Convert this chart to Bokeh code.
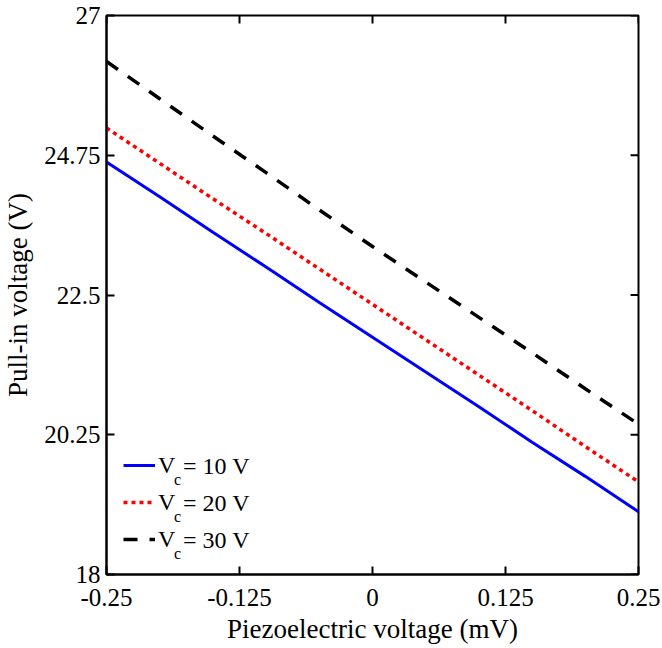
from bokeh.plotting import figure
from bokeh.models import (Range1d, FixedTicker, Legend, LegendItem, Label)
from bokeh.embed import file_html
from bokeh.resources import INLINE

# ---- data ----
piezo_mV = [-0.25, -0.20, -0.15, -0.10, -0.05, 0.0, 0.05, 0.10, 0.15, 0.20, 0.25]
pullin_vc10 = [24.64, 24.08, 23.51, 22.95, 22.38, 21.82, 21.26, 20.70, 20.13, 19.58, 19.01]
pullin_vc20 = [25.19, 24.62, 24.05, 23.49, 22.92, 22.35, 21.78, 21.21, 20.64, 20.06, 19.49]
pullin_vc30 = [26.26, 25.66, 25.06, 24.47, 23.87, 23.28, 22.71, 22.14, 21.57, 20.99, 20.42]
series_names = ["10", "20", "30"]
x_ticks = [-0.25, -0.125, 0.0, 0.125, 0.25]
x_tick_labels = ["-0.25", "-0.125", "0", "0.125", "0.25"]
y_ticks = [18, 20.25, 22.5, 24.75, 27]
y_tick_labels = ["18", "20.25", "22.5", "24.75", "27"]
x_lim = [-0.25, 0.25]
y_lim = [18, 27]

FONT = "Liberation Serif"
W, H = 662, 648
FL, FR, FT, FB = 103, 638, 15, 574  # frame edges in pixels
TICK = 8

p = figure(width=W, height=H, output_backend="svg", toolbar_location=None,
           x_range=Range1d(*x_lim), y_range=Range1d(*y_lim),
           min_border_left=FL, min_border_right=W - FR,
           min_border_top=FT, min_border_bottom=H - FB,
           x_axis_label="Piezoelectric voltage (mV)",
           y_axis_label="Pull-in voltage (V)")
p.xgrid.visible = False
p.ygrid.visible = False
p.background_fill_color = "white"
p.border_fill_color = "white"
p.outline_line_color = "black"
p.outline_line_width = 2
p.outline_line_alpha = 1

def style_axis(ax, ticks, labels, standoff):
    ax.ticker = FixedTicker(ticks=ticks)
    ax.major_label_overrides = {t: l for t, l in zip(ticks, labels)}
    ax.major_tick_in = TICK
    ax.major_tick_out = 0
    ax.minor_tick_line_color = None
    ax.major_tick_line_color = "black"
    ax.major_tick_line_width = 2
    ax.axis_line_color = "black"
    ax.axis_line_width = 2
    ax.major_label_text_font = FONT
    ax.major_label_text_color = "black"
    ax.major_label_text_font_size = "25px"
    ax.major_label_standoff = standoff
    ax.axis_label_text_font = FONT
    ax.axis_label_text_font_style = "normal"
    ax.axis_label_text_font_size = "27px"
    ax.axis_label_text_color = "black"

style_axis(p.xaxis[0], x_ticks, x_tick_labels, 14)
p.xaxis[0].axis_label_standoff = 5
style_axis(p.yaxis[0], y_ticks, y_tick_labels, 6)
p.yaxis[0].axis_label_standoff = 8

# mirrored inward ticks on the top and right edges
dy_tick = TICK * (y_lim[1] - y_lim[0]) / (FB - FT)
dx_tick = TICK * (x_lim[1] - x_lim[0]) / (FR - FL)
p.segment(x0=x_ticks, y0=[y_lim[1]] * len(x_ticks),
          x1=x_ticks, y1=[y_lim[1] - dy_tick] * len(x_ticks),
          line_color="black", line_width=2)
p.segment(x0=[x_lim[1]] * len(y_ticks), y0=y_ticks,
          x1=[x_lim[1] - dx_tick] * len(y_ticks), y1=y_ticks,
          line_color="black", line_width=2)

r1 = p.line(piezo_mV, pullin_vc10, line_color="#0000FF", line_width=3)
r2 = p.line(piezo_mV, pullin_vc20, line_color="#FF0000", line_width=3.5,
            line_dash="4 4")
r3 = p.line(piezo_mV, pullin_vc30, line_color="#000000", line_width=3.5,
            line_dash="14 12")

legend = Legend(items=[LegendItem(label="V", renderers=[r]) for r in (r1, r2, r3)],
                location=(17, 20), padding=0, margin=0, spacing=7,
                glyph_width=32, glyph_height=30, label_height=30,
                label_text_font=FONT, label_text_font_size="24px",
                label_text_color="black", label_standoff=3,
                border_line_color=None, background_fill_alpha=0)
p.add_layout(legend, "center")

# rest of legend texts (subscript c and value)
def dx(px):
    return x_lim[0] + (px - FL) / (FR - FL) * (x_lim[1] - x_lim[0])

def dy(py):
    return y_lim[0] + (FB - py) / (FB - FT) * (y_lim[1] - y_lim[0])

row_centers = [465, 502, 539]
for name, c in zip(series_names, row_centers):
    p.add_layout(Label(x=dx(171), y=dy(c + 14), text="c", text_font=FONT,
                       text_font_size="16px", text_baseline="alphabetic",
                       text_color="black"))
    p.add_layout(Label(x=dx(180), y=dy(c), text="= " + name + " V", text_font=FONT,
                       text_font_size="24px", text_baseline="middle",
                       text_color="black"))

open("out.html", "w").write(file_html(p, INLINE))
